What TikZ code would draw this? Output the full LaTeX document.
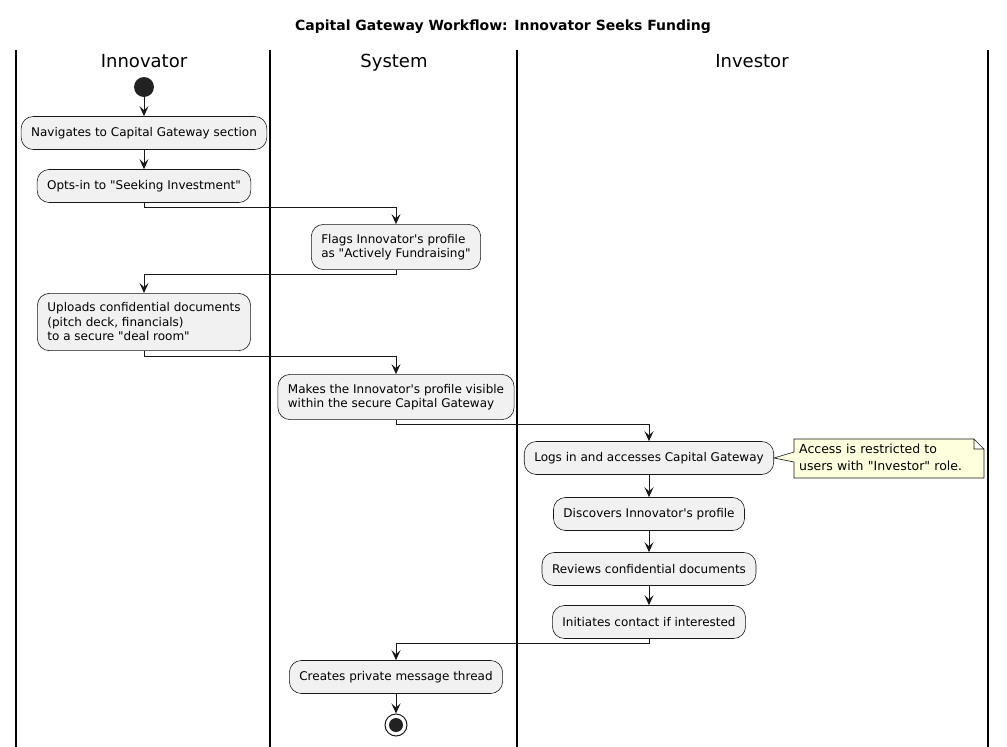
\documentclass[tikz,border=0pt]{standalone}
\usepackage{fontspec}
\newfontfamily\uifont{DejaVu Sans}
\usetikzlibrary{arrows.meta}
\definecolor{actfill}{HTML}{F1F1F1}
\definecolor{actline}{HTML}{181818}
\definecolor{notefill}{HTML}{FEFFDD}
\begin{document}
\begin{tikzpicture}[x=1pt,y=-1pt,
    act/.style={draw=actline,line width=.6pt,fill=actfill,rounded corners=12pt,
      inner xsep=10pt,inner ysep=9.5pt,minimum height=33pt,align=left,
      font=\uifont\fontsize{12}{14.5}\selectfont},
    flow/.style={draw=actline,line width=1pt,-{Stealth[length=10pt,width=9pt,inset=4pt]}},
    lane/.style={line width=1.5pt},
    head/.style={anchor=base,font=\uifont\fontsize{18}{20}\selectfont}]
  \useasboundingbox (0,0) rectangle (1007,747);
  \node[font=\uifont\fontsize{14}{16}\selectfont\bfseries] (title) at (503,27) {Capital Gateway Workflow: Innovator Seeks Funding};
  \draw[lane] (16,50)--(16,747) (270,50)--(270,747) (517,50)--(517,747) (988,50)--(988,747);
  \node[head] (innov) at (144,67) {Innovator};
  \node[head] (sys) at (394,67) {System};
  \node[head] (inv) at (752,67) {Investor};
  \fill[fill={rgb,255:red,34;green,34;blue,34}] (144,87) circle(10) coordinate (start);
  \node[act] (nav) at (144,133) {Navigates to Capital Gateway section};
  \node[act] (optin) at (144,186) {Opts-in to "Seeking Investment"};
  \node[act] (flag) at (396,247) {Flags Innovator's profile\\as "Actively Fundraising"};
  \node[act] (upload) at (144,322) {Uploads confidential documents\\(pitch deck, financials)\\to a secure "deal room"};
  \node[act] (visible) at (396,397) {Makes the Innovator's profile visible\\within the secure Capital Gateway};
  \node[act] (login) at (649,458) {Logs in and accesses Capital Gateway};
  \node[act] (discover) at (649,514) {Discovers Innovator's profile};
  \node[act] (review) at (649,569) {Reviews confidential documents};
  \node[act] (contact) at (649,622) {Initiates contact if interested};
  \node[act] (thread) at (396,677) {Creates private message thread};
  \node[circle,draw=actline,line width=1pt,minimum size=22pt,inner sep=0pt] (stop) at (396,725) {};
  \fill[fill={rgb,255:red,34;green,34;blue,34}] (stop.center) circle(7);
  \coordinate (note) at (794,439);
  \coordinate (notetip) at (794,452);
  \draw[draw=actline,line width=.6pt,fill=notefill,line join=miter]
    (note) -- ++(180,0) -- ++(10,10) -- ++(0,29) -- ++(-190,0) -- ++(0,-16)
    -- (login.east) -- (notetip) -- cycle
    ([xshift=180pt]note) -- ++(0,10) -- ++(10,0);
  \node[anchor=north west,inner xsep=5pt,inner ysep=5pt,align=left,text width=180pt,
        font=\uifont\fontsize{12.5}{16.5}\selectfont] (notetext) at (note) {Access is restricted to\\users with "Investor" role.};
  \draw[flow] (start) ++(0,10) -- (nav);
  \draw[flow] (nav) -- (optin);
  \draw[flow] (optin.south) -- ++(0,5) -| (flag.north);
  \draw[flow] (flag.south) -- ++(0,5) -| (upload.north);
  \draw[flow] (upload.south) -- ++(0,6) -| (visible.north);
  \draw[flow] (visible.south) -- ++(0,5) -| (login.north);
  \draw[flow] (login) -- (discover);
  \draw[flow] (discover) -- (review);
  \draw[flow] (review) -- (contact);
  \draw[flow] (contact.south) -- ++(0,5) -| (thread.north);
  \draw[flow] (thread) -- (stop);
\end{tikzpicture}
\end{document}
